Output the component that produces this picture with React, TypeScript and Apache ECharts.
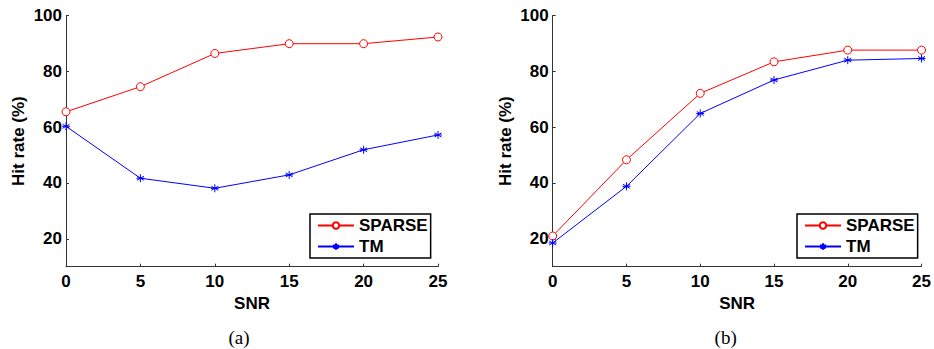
import React, { useEffect, useRef } from "react";
import * as echarts from "echarts";

const snr = [0, 5, 10, 15, 20, 25];
const sparseA = [65.5, 74.5, 86.4, 89.9, 89.9, 92.3];
const tmA = [60.3, 41.7, 38.1, 42.9, 51.9, 57.2];
const sparseB = [21.0, 48.3, 72.1, 83.4, 87.6, 87.6];
const tmB = [18.5, 38.8, 64.9, 76.9, 84.0, 84.6];
const yTicks = [20, 40, 60, 80, 100];
const captions = ["(a)", "(b)"];

const FONT = "'Liberation Sans', Arial, Helvetica, sans-serif";
const FS = 17;
const AX = "#333";
const STAR = "path://M5,0L5,10M0.67,2.5L9.33,7.5M0.67,7.5L9.33,2.5M0,5L10,5";

const grids = [
  { left: 66, right: 496, top: 15.5, bottom: 82.3 },
  { left: 552.7, right: 9, top: 15.5, bottom: 82.3 },
];

export default function App() {
  const ref = useRef<HTMLDivElement>(null);
  useEffect(() => {
    if (!ref.current) return;
    const chart = echarts.init(ref.current, undefined, { renderer: "svg" });
    const xAxis = grids.map((_, i) => ({
      type: "value",
      gridIndex: i,
      min: 0,
      max: 25,
      interval: 5,
      name: "SNR",
      nameLocation: "middle",
      nameGap: 24,
      nameTextStyle: { fontFamily: FONT, fontWeight: "bold", fontSize: FS, color: "#000" },
      axisLine: { show: true, lineStyle: { color: AX, width: 1 } },
      axisTick: { show: true, inside: true, length: 3, lineStyle: { color: AX } },
      axisLabel: { fontFamily: FONT, fontWeight: "bold", fontSize: FS, color: "#000", margin: 6 },
      splitLine: { show: false },
    }));
    const yAxis = grids.map((_, i) => ({
      type: "value",
      gridIndex: i,
      min: 10,
      max: 100,
      name: "Hit rate (%)",
      nameLocation: "middle",
      nameGap: 39,
      nameTextStyle: { fontFamily: FONT, fontWeight: "bold", fontSize: FS, color: "#000" },
      axisLine: { show: true, lineStyle: { color: AX, width: 1 } },
      axisTick: { show: true, inside: true, length: 3, lineStyle: { color: AX }, customValues: yTicks },
      axisLabel: { fontFamily: FONT, fontWeight: "bold", fontSize: FS, color: "#000", margin: 4, customValues: yTicks },
      splitLine: { show: false },
    }));
    const mk = (name: string, data: number[], i: number) => {
      const isSparse = name === "SPARSE";
      const color = isSparse ? "#ff0000" : "#0000ff";
      return {
        type: "line",
        name,
        xAxisIndex: i,
        yAxisIndex: i,
        data: snr.map((x, k) => [x, data[k]]),
        symbol: isSparse ? "circle" : STAR,
        symbolSize: 8,
        showAllSymbol: true,
        lineStyle: { color, width: 1 },
        itemStyle: isSparse
          ? { color: "#fff", borderColor: color, borderWidth: 1 }
          : { color: "none", borderColor: color, borderWidth: 1 },
      };
    };
    const legendAt = (left: number) => ({
      orient: "vertical",
      left,
      top: 214,
      data: ["SPARSE", "TM"],
      backgroundColor: "#fff",
      borderColor: "#000",
      borderWidth: 1.5,
      borderRadius: 0,
      padding: [3, 3, 3, 7],
      itemGap: 4,
      itemWidth: 36,
      itemHeight: 8,
      selectedMode: false,
      textStyle: { fontFamily: FONT, fontWeight: "bold", fontSize: FS, color: "#000" },
    });
    const cap = (text: string, x: number) => ({
      type: "text",
      x,
      y: 337,
      style: { text, fontFamily: "'Liberation Serif', 'Times New Roman', serif", fontSize: 19, fill: "#000", align: "center", verticalAlign: "middle" },
    });
    chart.setOption({
      animation: false,
      backgroundColor: "#fff",
      grid: grids,
      xAxis,
      yAxis,
      legend: [legendAt(310), legendAt(797)],
      series: [mk("SPARSE", sparseA, 0), mk("TM", tmA, 0), mk("SPARSE", sparseB, 1), mk("TM", tmB, 1)],
      graphic: [cap(captions[0], 239), cap(captions[1], 725.7)],
    });
    return () => chart.dispose();
  }, []);
  return <div ref={ref} style={{ width: 934, height: 349, position: "absolute", left: 0, top: 0 }} />;
}
